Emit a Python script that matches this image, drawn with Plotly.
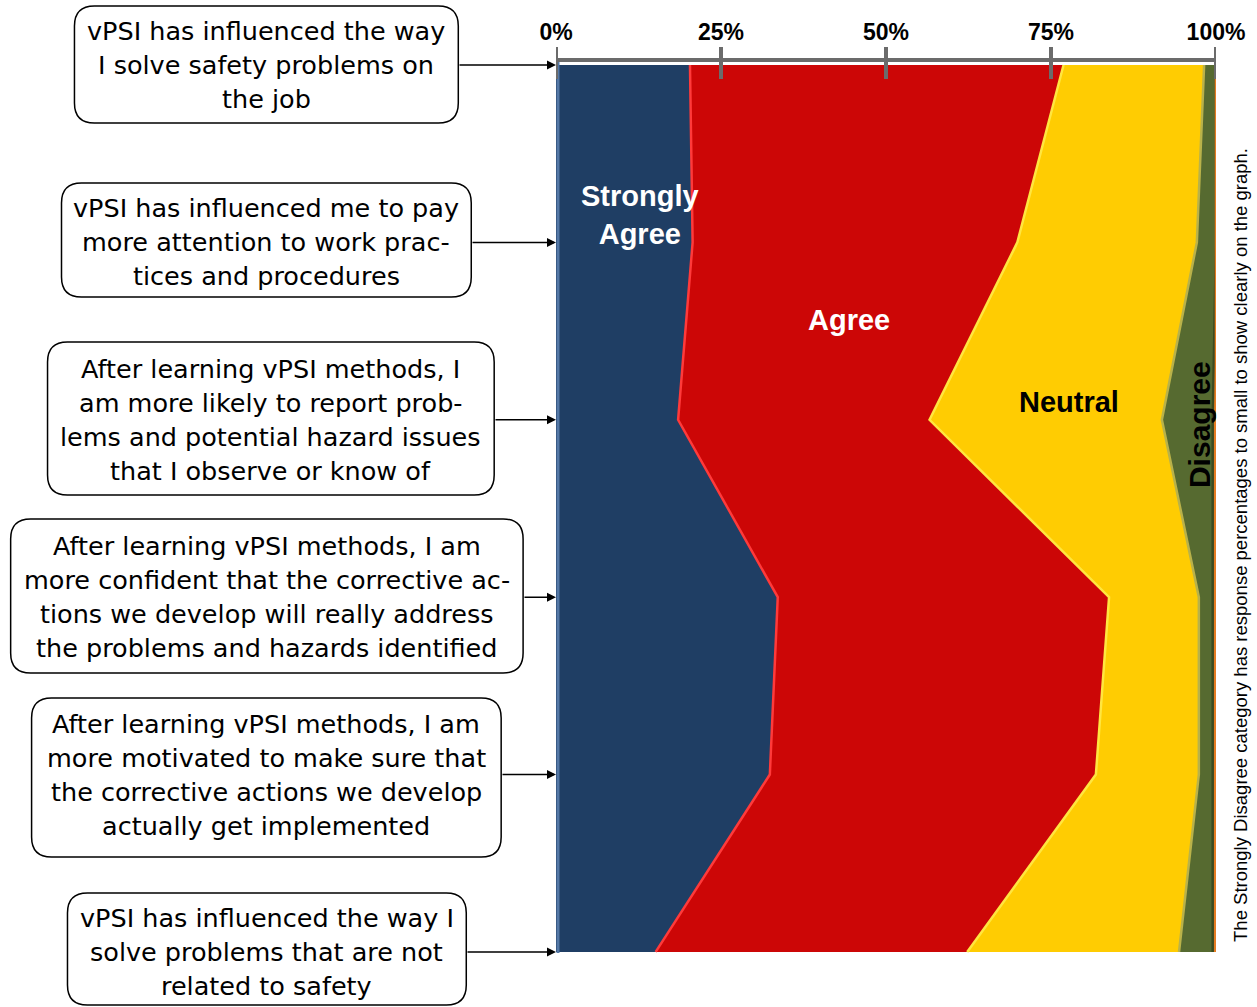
import plotly.graph_objects as go

# ---- data ----
statements = [
    "vPSI has influenced the way<br>I solve safety problems on<br>the job",
    "vPSI has influenced me to pay<br>more attention to work prac-<br>tices and procedures",
    "After learning vPSI methods, I<br>am more likely to report prob-<br>lems and potential hazard issues<br>that I observe or know of",
    "After learning vPSI methods, I am<br>more confident that the corrective ac-<br>tions we develop will really address<br>the problems and hazards identified",
    "After learning vPSI methods, I am<br>more motivated to make sure that<br>the corrective actions we develop<br>actually get implemented",
    "vPSI has influenced the way I<br>solve problems that are not<br>related to safety",
]
strongly_agree    = [20.3, 20.7, 18.5, 33.6, 32.4, 15.1]
agree             = [56.6, 49.2, 38.1, 50.2, 49.4, 47.2]
neutral           = [21.3, 27.2, 35.2, 13.6, 15.6, 32.1]
disagree          = [1.8, 2.9, 7.7, 2.1, 2.1, 5.1]
strongly_disagree = [0.0, 0.0, 0.5, 0.5, 0.5, 0.5]
tick_values = [0, 25, 50, 75, 100]
tick_labels = ["0%", "25%", "50%", "75%", "100%"]

# ---- layout geometry (pixels) ----
W, H = 1257, 1007
L, R, T, B = 556, 1218, 62, 953
def px_x(X): return (X - L) / (R - L)
def px_y(Y): return (B - Y) / (B - T)

boxes = [(73, 6, 458, 123), (60, 183, 471, 297), (46, 342, 494, 495),
         (9, 519, 523, 673), (30, 698, 501, 857), (66, 893, 466, 1005)]

FONT = "Liberation Sans, Arial, sans-serif"
BOX_FONT = "DejaVu Sans, Liberation Sans, sans-serif"

series = [
    ("Strongly Agree", strongly_agree, "#1F3E64", "#FF3A3A"),
    ("Agree", agree, "#CC0606", "#FFE640"),
    ("Neutral", neutral, "#FFCC02", "#B9B24A"),
    ("Disagree", disagree, "#566A30", "#3A4A20"),
    ("Strongly Disagree", strongly_disagree, "#E57C22", "#E57C22"),
]

fig = go.Figure()
for name, vals, fc, lc in series:
    fig.add_trace(go.Scatter(
        x=vals, y=statements, name=name, stackgroup="one", orientation="h",
        mode="lines", fillcolor=fc, line=dict(color=lc, width=2.5),
        hoverinfo="x+name", showlegend=False))

shapes = []
def rrect(x0, y0, x1, y1, r=20):
    def P(x, y): return f"{px_x(x):.5f},{px_y(y):.5f}"
    return (f"M {P(x0+r,y0)} L {P(x1-r,y0)} Q {P(x1,y0)} {P(x1,y0+r)} "
            f"L {P(x1,y1-r)} Q {P(x1,y1)} {P(x1-r,y1)} L {P(x0+r,y1)} "
            f"Q {P(x0,y1)} {P(x0,y1-r)} L {P(x0,y0+r)} Q {P(x0,y0)} {P(x0+r,y0)} Z")

for (x0, y0, x1, y1) in boxes:
    shapes.append(dict(type="path", xref="paper", yref="paper", path=rrect(x0, y0, x1, y1),
                       line=dict(color="black", width=1.5), fillcolor="white", layer="above"))
# light bevel on left edge of the plot
shapes.append(dict(type="line", xref="paper", yref="paper", x0=px_x(558), x1=px_x(558),
                   y0=0, y1=1, line=dict(color="#5478A6", width=3), layer="above"))
# tick marks (crossing the axis line)
for tv in tick_values:
    shapes.append(dict(type="line", xref="x", yref="paper", x0=tv, x1=tv,
                       y0=1 + 15 / (B - T), y1=1 - 17 / (B - T),
                       line=dict(color="#6B6B6B", width=4), layer="above"))

annotations = []
LINE_H = 34
for st, bx in zip(statements, boxes):
    lines = st.split("<br>")
    n = len(lines)
    for k, ln in enumerate(lines):
        annotations.append(dict(x=px_x((bx[0] + bx[2]) / 2), xref="paper", y=st, yref="y",
                                yshift=-(k - (n - 1) / 2) * LINE_H,
                                text=ln, showarrow=False, xanchor="center", yanchor="middle",
                                align="center", font=dict(family=BOX_FONT, size=25.5, color="black")))
    annotations.append(dict(x=0, y=st, xref="x", yref="y", text="", showarrow=True,
                            ax=bx[2] - L, ay=0, axref="pixel", ayref="pixel",
                            arrowhead=2, arrowsize=1.2, arrowwidth=1.5, arrowcolor="black",
                            standoff=0))

labels = [
    ("Strongly<br>Agree", 640, 215, "white", 0, 29),
    ("Agree", 850, 320, "white", 0, 29),
    ("Neutral", 1071, 402, "black", 0, 29),
    ("Disagree", 1201, 425, "black", -90, 30),
]
for txt, X, Y, col, ang, sz in labels:
    annotations.append(dict(x=px_x(X), y=px_y(Y), xref="paper", yref="paper", text=f"<b>{txt}</b>",
                            showarrow=False, xanchor="center", yanchor="middle", textangle=ang,
                            font=dict(family=FONT, size=sz, color=col)))

annotations.append(dict(x=px_x(1242), y=px_y(545), xref="paper", yref="paper",
                        text="The Strongly Disagree category has response percentages to small to show clearly on the graph.",
                        showarrow=False, textangle=-90, xanchor="center", yanchor="middle",
                        font=dict(family=FONT, size=18.5, color="black")))

fig.update_layout(
    width=W, height=H, margin=dict(l=L, r=W - R, t=T, b=H - B),
    paper_bgcolor="white", plot_bgcolor="white",
    shapes=shapes, annotations=annotations,
    xaxis=dict(side="top", range=[0, 100], tickmode="array", tickvals=tick_values, ticktext=tick_labels,
               showgrid=False, zeroline=False, showline=True, linecolor="#6B6B6B", linewidth=4,
               ticks="outside", ticklen=9, tickwidth=1, tickcolor="rgba(0,0,0,0)",
               tickfont=dict(family=FONT, size=23, color="black", weight="bold")),
    yaxis=dict(type="category", categoryorder="array", categoryarray=statements,
               range=[5.006, -0.017], showticklabels=False, showgrid=False,
               zeroline=False, showline=False, ticks=""),
)

fig.write_html("out.html", config={"displayModeBar": False},
               post_script="document.body.style.margin='0';document.body.style.overflow='hidden';")
